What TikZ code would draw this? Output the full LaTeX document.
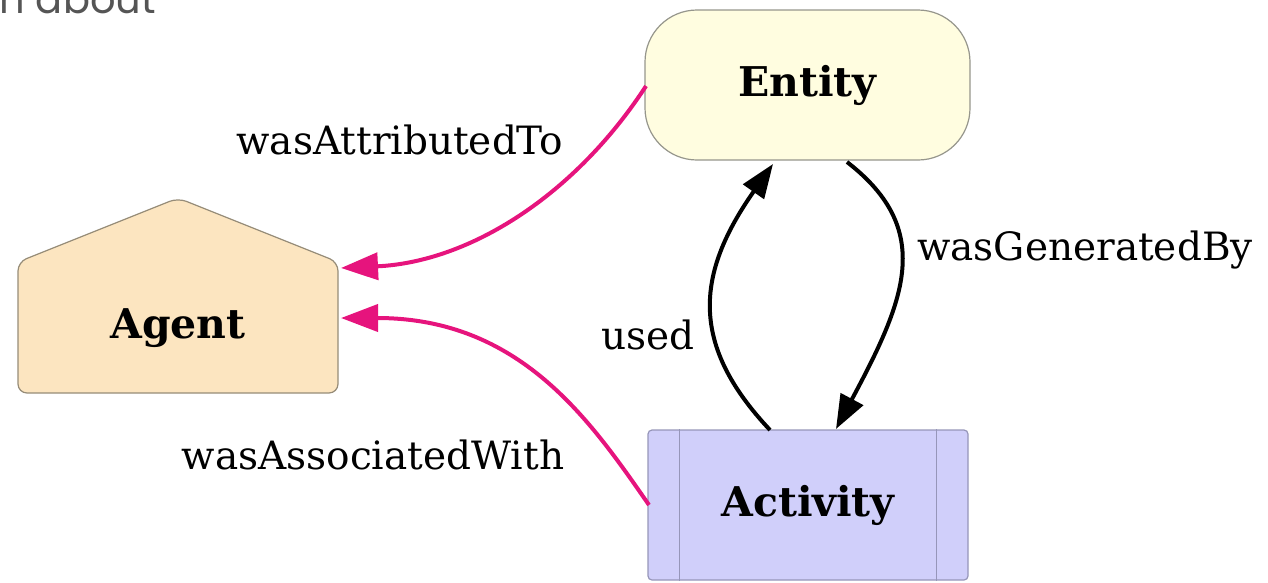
\documentclass[tikz,border=0pt]{standalone}
\usepackage{fontspec}
\setmainfont{DejaVu Serif}
\newfontfamily\popfont{Poppins}
\usetikzlibrary{arrows.meta}
\definecolor{provpink}{RGB}{230,20,125}
\definecolor{entfill}{RGB}{255,253,224}
\definecolor{entline}{RGB}{150,150,140}
\definecolor{agfill}{RGB}{252,229,192}
\definecolor{agline}{RGB}{150,140,120}
\definecolor{actfill}{RGB}{208,207,250}
\definecolor{actline}{RGB}{150,150,185}
\definecolor{topgray}{RGB}{85,85,85}
\tikzset{
  lbl/.style={font=\fontsize{39}{44}\selectfont, inner sep=0pt},
  nodelbl/.style={font=\fontsize{41}{46}\selectfont\bfseries, inner sep=0pt},
  blackedge/.style={line width=4pt, -{Triangle[length=34pt,width=25pt]}},
  pinkedge/.style={line width=4pt, draw=provpink, -{Triangle[length=37pt,width=27pt]}, provpink},
}
\begin{document}
\begin{tikzpicture}[x=1pt,y=-1pt]
\useasboundingbox (0,0) rectangle (1268,582);
% partial top text
\node[font=\fontsize{40}{44}\popfont, text=topgray, anchor=base east, inner sep=0pt] (toptext) at (156,13) {n about};
% Entity
\node[draw=entline, line width=1.2pt, fill=entfill, rounded corners=52pt, minimum width=325pt, minimum height=150pt, inner sep=0pt] (entity) at (807.5,85) {};
\node[nodelbl] (entitylbl) at (entity.center) {Entity};
% Agent (house shape)
\draw[draw=agline, line width=1.2pt, fill=agfill, rounded corners=9pt]
  (18,393) -- (18,262) -- (178,198) -- (338,262) -- (338,393) -- cycle;
\node[nodelbl] (agent) at (178,328) {Agent};
\coordinate (agentA) at (341,268);
\coordinate (agentB) at (341,318);
% Activity
\node[draw=actline, line width=1.2pt, fill=actfill, rounded corners=4pt, minimum width=320pt, minimum height=150pt, inner sep=0pt] (activity) at (808,505) {};
\draw[actline, line width=1.2pt] ([xshift=32pt]activity.north west) -- ([xshift=32pt]activity.south west);
\draw[actline, line width=1.2pt] ([xshift=-32pt]activity.north east) -- ([xshift=-32pt]activity.south east);
\node[nodelbl] (activitylbl) at (activity.center) {Activity};
% edge anchors
\coordinate (entW) at (646,86);
\coordinate (entS1) at (773,164);
\coordinate (entS2) at (847,162);
\coordinate (actN1) at (770,430);
\coordinate (actN2) at (836,429);
\coordinate (actW) at (649,505);
% edges
\draw[pinkedge] (entW) .. controls (575,195) and (470,262) .. (agentA);
\draw[pinkedge] (actW) .. controls (590,420) and (520,318) .. (agentB);
\draw[blackedge] (actN1) .. controls (690,345) and (695,275) .. (entS1);
\draw[blackedge] (entS2) .. controls (935,230) and (905,300) .. (actN2);
% labels
\node[lbl] (lAttr) at (400,140) {wasAttributedTo};
\node[lbl] (lAssoc) at (373,455) {wasAssociatedWith};
\node[lbl] (lUsed) at (648,335) {used};
\node[lbl] (lGen) at (1085,250) {wasGeneratedBy};
\end{tikzpicture}
\end{document}
